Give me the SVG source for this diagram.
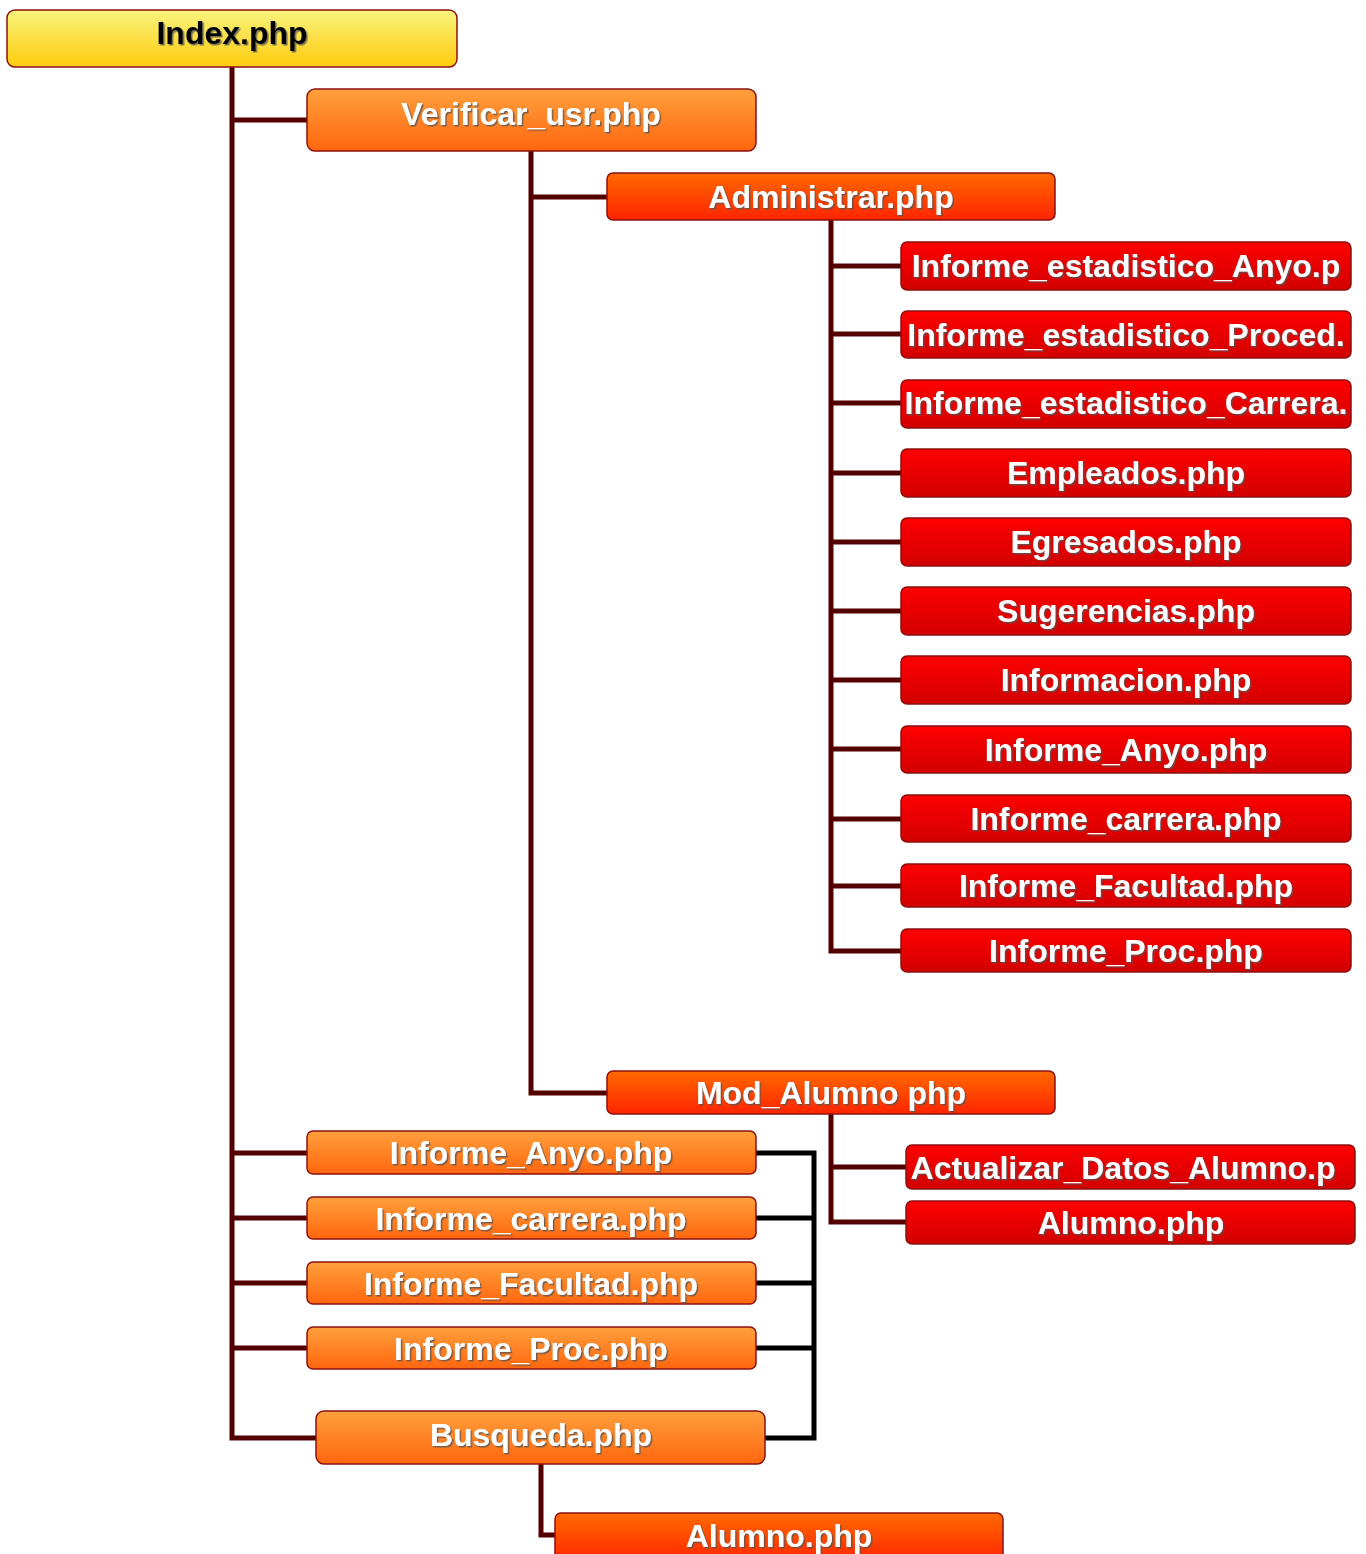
<svg xmlns="http://www.w3.org/2000/svg" width="1366" height="1554" viewBox="0 0 1366 1554">
<defs>
<linearGradient id="gY" x1="0" y1="0" x2="0" y2="1"><stop offset="0" stop-color="#f8f47e"/><stop offset="1" stop-color="#ffcb0c"/></linearGradient>
<linearGradient id="gO" x1="0" y1="0" x2="0" y2="1"><stop offset="0" stop-color="#ffa03c"/><stop offset="1" stop-color="#ff660e"/></linearGradient>
<linearGradient id="gR" x1="0" y1="0" x2="0" y2="1"><stop offset="0" stop-color="#ff6a00"/><stop offset="1" stop-color="#ff2400"/></linearGradient>
<linearGradient id="gD" x1="0" y1="0" x2="0" y2="1"><stop offset="0" stop-color="#ff0000"/><stop offset="1" stop-color="#d20000"/></linearGradient>
<filter id="sh" x="-5%" y="-20%" width="110%" height="140%"><feDropShadow dx="1.5" dy="1.5" stdDeviation="0.6" flood-color="#555" flood-opacity="0.8"/></filter>
</defs>
<style>
.box{stroke:#8b1010;stroke-width:1.5}
.y{fill:url(#gY)}.o{fill:url(#gO)}.r{fill:url(#gR)}.d{fill:url(#gD)}
text{font-family:"Liberation Sans",Arial,sans-serif;font-weight:bold;font-size:32px;text-anchor:middle;fill:#fff;filter:url(#sh)}
text.k{fill:#000}
.c{fill:none;stroke:#550000;stroke-width:5}
.b{fill:none;stroke:#000;stroke-width:5}
</style>
<g id="connectors">
<path class="c" d="M232 67 V1438 H316"/>
<path class="c" d="M232 120 H307"/>
<path class="c" d="M232 1153 H307 M232 1218 H307 M232 1283 H307 M232 1348 H307"/>
<path class="c" d="M531 151 V1093 H607"/>
<path class="c" d="M531 197 H607"/>
<path class="c" d="M831 220 V951 H901"/>
<path class="c" d="M831 266 H901 M831 334 H901 M831 403 H901 M831 473 H901 M831 542 H901 M831 611 H901 M831 680 H901 M831 749 H901 M831 819 H901 M831 886 H901"/>
<path class="c" d="M831 1114 V1222 H906 M831 1167 H906"/>
<path class="c" d="M541 1464 V1535 H555"/>
<path class="b" d="M756 1153 H814 V1438 H765 M756 1218 H814 M756 1283 H814 M756 1348 H814"/>
</g>
<g id="n-index"><rect class="box y" x="7" y="10" width="450" height="57" rx="8"/><text class="k" x="232" y="44">Index.php</text></g>
<g id="n-verificar"><rect class="box o" x="307" y="89" width="449" height="62" rx="8"/><text x="531" y="125">Verificar_usr.php</text></g>
<g id="n-administrar"><rect class="box r" x="607" y="173" width="448" height="47" rx="6"/><text x="831" y="208">Administrar.php</text></g>
<g id="n-ie-anyo"><rect class="box d" x="901" y="242" width="450" height="48" rx="6"/><text x="1126" y="277">Informe_estadistico_Anyo.p</text></g>
<g id="n-ie-proced"><rect class="box d" x="901" y="311" width="450" height="47" rx="6"/><text x="1126" y="346">Informe_estadistico_Proced.</text></g>
<g id="n-ie-carrera"><rect class="box d" x="901" y="380" width="450" height="48" rx="6"/><text x="1126" y="414">Informe_estadistico_Carrera.</text></g>
<g id="n-empleados"><rect class="box d" x="901" y="449" width="450" height="48" rx="6"/><text x="1126" y="484">Empleados.php</text></g>
<g id="n-egresados"><rect class="box d" x="901" y="518" width="450" height="48" rx="6"/><text x="1126" y="553">Egresados.php</text></g>
<g id="n-sugerencias"><rect class="box d" x="901" y="587" width="450" height="48" rx="6"/><text x="1126" y="622">Sugerencias.php</text></g>
<g id="n-informacion"><rect class="box d" x="901" y="656" width="450" height="48" rx="6"/><text x="1126" y="691">Informacion.php</text></g>
<g id="n-a-anyo"><rect class="box d" x="901" y="726" width="450" height="47" rx="6"/><text x="1126" y="761">Informe_Anyo.php</text></g>
<g id="n-a-carrera"><rect class="box d" x="901" y="795" width="450" height="47" rx="6"/><text x="1126" y="830">Informe_carrera.php</text></g>
<g id="n-a-facultad"><rect class="box d" x="901" y="864" width="450" height="43" rx="6"/><text x="1126" y="897">Informe_Facultad.php</text></g>
<g id="n-a-proc"><rect class="box d" x="901" y="929" width="450" height="43" rx="6"/><text x="1126" y="962">Informe_Proc.php</text></g>
<g id="n-modalumno"><rect class="box r" x="607" y="1071" width="448" height="43" rx="6"/><text x="831" y="1104">Mod_Alumno php</text></g>
<g id="n-actualizar"><rect class="box d" x="906" y="1145" width="449" height="44" rx="6"/><text x="1123" y="1179">Actualizar_Datos_Alumno.p</text></g>
<g id="n-alumno1"><rect class="box d" x="906" y="1201" width="449" height="43" rx="6"/><text x="1131" y="1234">Alumno.php</text></g>
<g id="n-b-anyo"><rect class="box o" x="307" y="1131" width="449" height="43" rx="6"/><text x="531" y="1164">Informe_Anyo.php</text></g>
<g id="n-b-carrera"><rect class="box o" x="307" y="1197" width="449" height="42" rx="6"/><text x="531" y="1230">Informe_carrera.php</text></g>
<g id="n-b-facultad"><rect class="box o" x="307" y="1262" width="449" height="42" rx="6"/><text x="531" y="1295">Informe_Facultad.php</text></g>
<g id="n-b-proc"><rect class="box o" x="307" y="1327" width="449" height="42" rx="6"/><text x="531" y="1360">Informe_Proc.php</text></g>
<g id="n-busqueda"><rect class="box o" x="316" y="1411" width="449" height="53" rx="8"/><text x="541" y="1446">Busqueda.php</text></g>
<g id="n-alumno2"><rect class="box r" x="555" y="1513" width="448" height="50" rx="6"/><text x="779" y="1547">Alumno.php</text></g>
</svg>
